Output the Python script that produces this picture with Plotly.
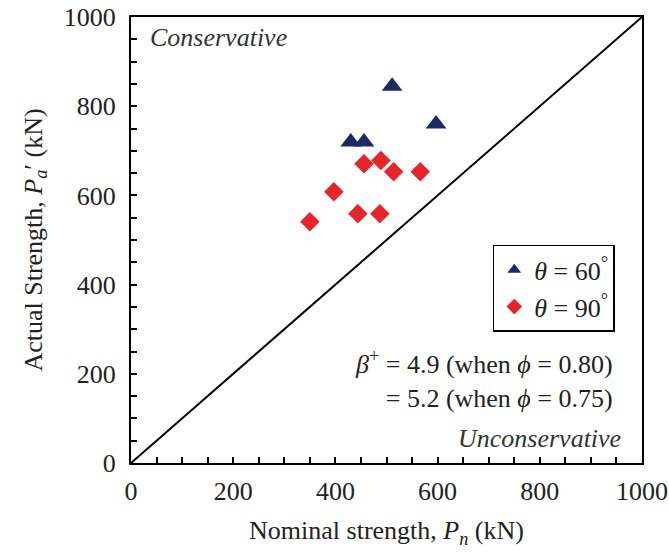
import plotly.graph_objects as go

# Data
tri_x = [430, 456, 511, 597]
tri_y = [720, 720, 845, 760]
dia_x = [350, 397, 444, 456, 487, 489, 514, 566]
dia_y = [541, 608, 559, 671, 559, 678, 653, 653]
line_x = [0, 1000]
line_y = [0, 1000]
tick_vals = [0, 200, 400, 600, 800, 1000]

FONT = "Liberation Serif"
TXT = "#222222"

fig = go.Figure()
fig.add_trace(go.Scatter(x=line_x, y=line_y, mode="lines",
                         line=dict(color="black", width=2), showlegend=False,
                         hoverinfo="skip"))
fig.add_trace(go.Scatter(x=tri_x, y=tri_y, mode="markers",
                         name="<i>θ</i> = 60<sup>°</sup>",
                         marker=dict(symbol="triangle-up", size=18, color="#1B2A66")))
fig.add_trace(go.Scatter(x=dia_x, y=dia_y, mode="markers",
                         name="<i>θ</i> = 90<sup>°</sup>",
                         marker=dict(symbol="diamond", size=15, color="#E8242A")))

axis_common = dict(
    range=[0, 1000], tickvals=tick_vals, showgrid=False, zeroline=False,
    showline=True, linecolor="black", linewidth=2, mirror=True, automargin=False,
    ticks="inside", ticklen=6, tickwidth=1.5, tickcolor="black",
    minor=dict(dtick=50, ticks="inside", ticklen=6, tickwidth=1.5, tickcolor="black", showgrid=False),
    tickfont=dict(family=FONT, size=26, color=TXT),
)

fig.update_layout(
    width=669, height=553,
    margin=dict(l=131, r=27, t=17, b=90),
    plot_bgcolor="white", paper_bgcolor="white",
    font=dict(family=FONT, color=TXT),
    xaxis=dict(**axis_common, ticklabelstandoff=4,
               title=dict(text="Nominal strength, <i>P<sub>n</sub></i> (kN)",
                          font=dict(family=FONT, size=26), standoff=16)),
    yaxis=dict(**axis_common, ticklabelstandoff=8,
               title=dict(text="Actual Strength, <i>P<sub>a</sub></i>′ (kN)",
                          font=dict(family=FONT, size=26), standoff=14)),
    legend=dict(x=0.708, y=0.489, xanchor="left", yanchor="top",
                bordercolor="black", borderwidth=1.5, bgcolor="white",
                font=dict(family=FONT, size=26, color=TXT),
                itemsizing="constant", tracegroupgap=0),
    showlegend=True,
)

fig.add_annotation(x=0.033, y=0.955, xref="paper", yref="paper", xanchor="left", yanchor="middle",
                   text="<i>Conservative</i>", showarrow=False,
                   font=dict(family=FONT, size=26, color="#333"))
fig.add_annotation(x=0.963, y=0.056, xref="paper", yref="paper", xanchor="right", yanchor="middle",
                   text="<i>Unconservative</i>", showarrow=False,
                   font=dict(family=FONT, size=26, color="#333"))
fig.add_annotation(x=0.947, y=0.188, xref="paper", yref="paper", xanchor="right", yanchor="middle",
                   text="<i>β</i><sup>+</sup> = 4.9 (when <i>ϕ</i> = 0.80)<br>= 5.2 (when <i>ϕ</i> = 0.75)",
                   align="right", showarrow=False,
                   font=dict(family=FONT, size=26, color=TXT))

fig.write_html("out.html")
